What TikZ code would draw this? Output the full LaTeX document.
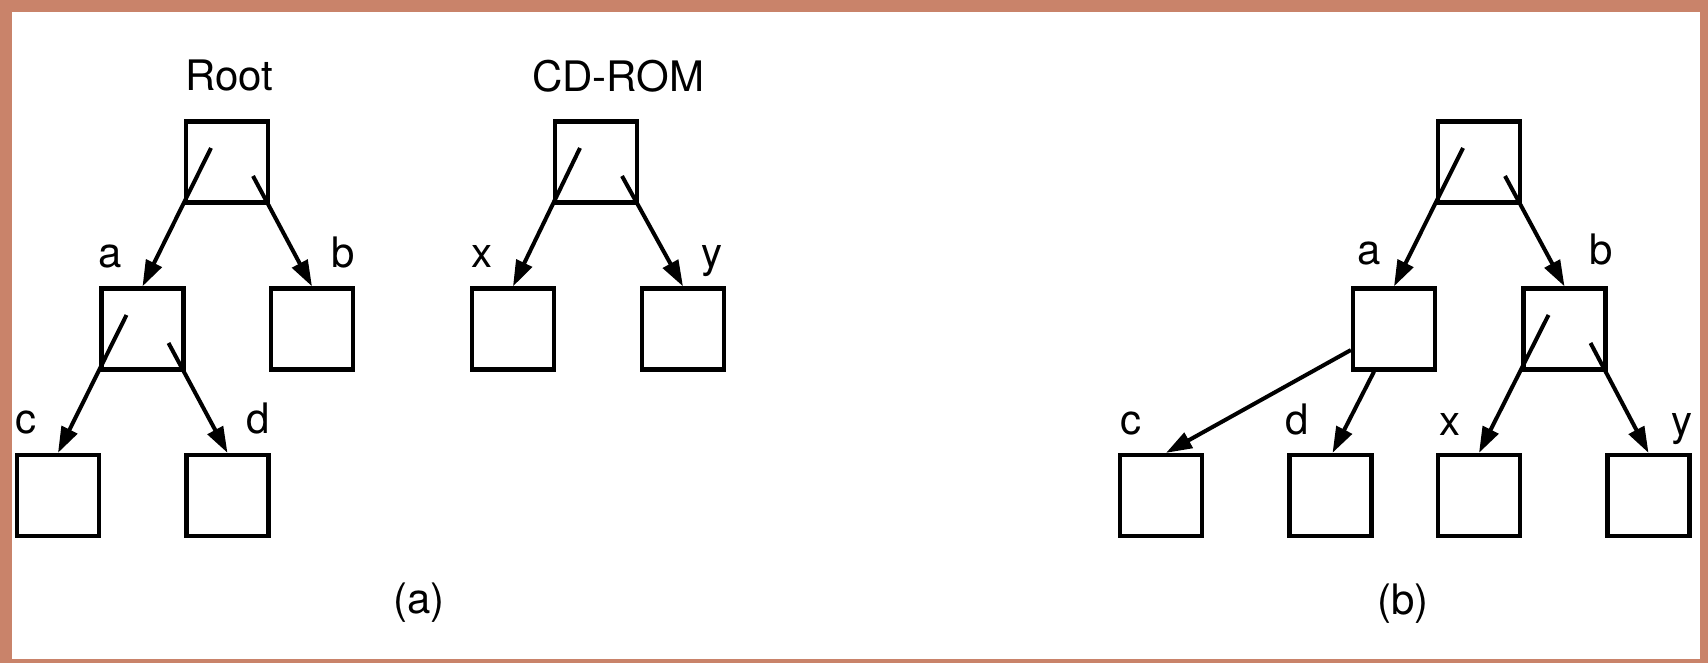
\documentclass[tikz,border=0pt]{standalone}
\usepackage{fontspec}
\setmainfont{TeX Gyre Heros}
\usetikzlibrary{calc,arrows.meta}

\definecolor{framebrown}{RGB}{201,131,106}

\tikzset{
    box/.style={draw, line width=4.2pt, minimum width=82pt, minimum height=81pt, inner sep=0pt},
    lbl/.style={inner sep=0pt, font=\fontsize{42}{48}\selectfont},
    ptr/.style={line width=4pt, -{Triangle[length=26pt,width=17pt]}},
}

\begin{document}
\begin{tikzpicture}[x=1pt, y=-1pt]
        \useasboundingbox (0,0) rectangle (1708,663);
        % frame
        \fill[framebrown] (0,0) rectangle (1708,663);
        \fill[white] (12,12) rectangle (1700,659);

        % (a) root tree and cd-rom tree
        \node[lbl, anchor=base] (ltitle) at (229.5,91) {Root};
        \node[lbl, anchor=base] (cdtitle) at (618,91.5) {CD-ROM};

        \node[box] (lroot) at (227,162) {};
        \node[box] (la) at (142.5,329) {};
        \node[box] (lb) at (312,329) {};
        \node[box] (lc) at (58,495.5) {};
        \node[box] (ld) at (227.5,495.5) {};

        \node[box] (lcd) at (596,162) {};
        \node[box] (lx) at (513,329) {};
        \node[box] (ly) at (683,329) {};

        \node[lbl, anchor=base west] (lna) at (98.5,267) {a};
        \node[lbl, anchor=base east] (lnb) at (355,267) {b};
        \node[lbl, anchor=base west] (lnc) at (15.6,433) {c};
        \node[lbl, anchor=base east] (lnd) at (269.8,433) {d};
        \node[lbl, anchor=base west] (lnx) at (471.3,267) {x};
        \node[lbl, anchor=base east] (lny) at (723,267) {y};

        \draw[ptr] ($(lroot)+(-16,-14)$) -- (la.north);
        \draw[ptr] ($(lroot)+(26,14)$) -- (lb.north);
        \draw[ptr] ($(la)+(-16,-14)$) -- (lc.north);
        \draw[ptr] ($(la)+(26,14)$) -- (ld.north);
        \draw[ptr] ($(lcd)+(-16,-14)$) -- (lx.north);
        \draw[ptr] ($(lcd)+(26,14)$) -- (ly.north);

        \node[lbl, anchor=base] (capa) at (419,613) {(a)};

        % (b) cd-rom mounted on b
        \node[box] (rroot) at (1479,162) {};
        \node[box] (ra) at (1394,329) {};
        \node[box] (rb) at (1564.5,329) {};
        \node[box] (rc) at (1161,495.5) {};
        \node[box] (rd) at (1330.5,495.5) {};
        \node[box] (rx) at (1479,495.5) {};
        \node[box] (ry) at (1648.5,495.5) {};

        \node[lbl, anchor=base west] (rna) at (1356.8,265) {a};
        \node[lbl, anchor=base east] (rnb) at (1613.2,265) {b};
        \node[lbl, anchor=base west] (rnc) at (1120.3,434) {c};
        \node[lbl, anchor=base west] (rnd) at (1285,434) {d};
        \node[lbl, anchor=base west] (rnx) at (1439.6,435) {x};
        \node[lbl, anchor=base east] (rny) at (1693,435) {y};

        \draw[ptr] ($(rroot)+(-16,-14)$) -- (ra.north);
        \draw[ptr] ($(rroot)+(26,14)$) -- (rb.north);
        \draw[ptr] ($(ra.west)+(0,21)$) -- ([xshift=5pt]rc.north);
        \draw[ptr] ([xshift=-20pt]ra.south) -- ([xshift=2pt]rd.north);
        \draw[ptr] ($(rb)+(-16,-14)$) -- (rx.north);
        \draw[ptr] ($(rb)+(26,14)$) -- (ry.north);

        \node[lbl, anchor=base] (capb) at (1403,614) {(b)};
\end{tikzpicture}
\end{document}
